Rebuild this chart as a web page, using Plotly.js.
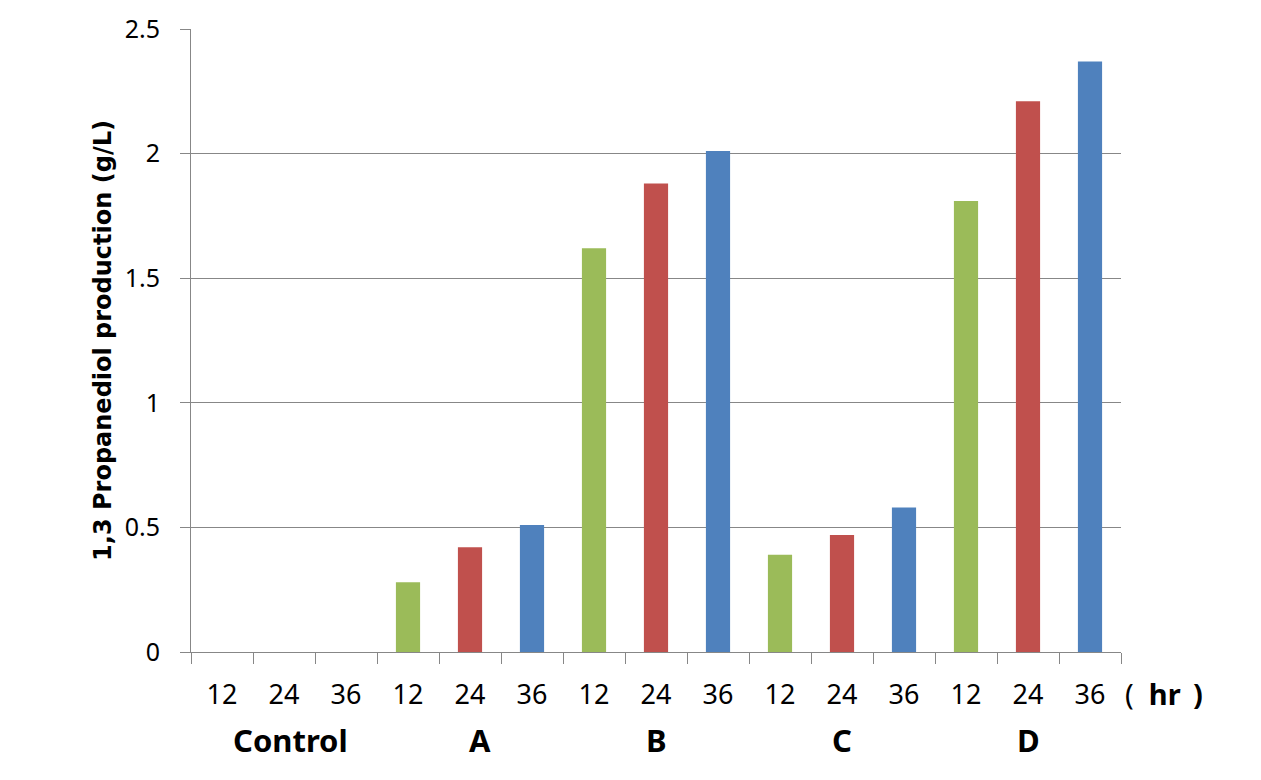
<!DOCTYPE html>
<html>
<head>
<meta charset="utf-8">
<script src="https://cdn.plot.ly/plotly-3.0.1.min.js"></script>
<style>html,body{margin:0;padding:0;background:#fff;}#chart{width:1261px;height:780px;}</style>
</head>
<body>
<div id="chart"></div>
<script>
const groups = ['Control', 'A', 'B', 'C', 'D'];
const hours = ['12', '24', '36'];
const values12 = [0, 0.28, 1.62, 0.39, 1.81];
const values24 = [0, 0.42, 1.88, 0.47, 2.21];
const values36 = [0, 0.51, 2.01, 0.58, 2.37];
const seriesValues = [values12, values24, values36];
const colors = ['#9BBB59', '#C0504D', '#4F81BD'];

const FONT = 'Noto Sans, Open Sans, sans-serif';
const TITLE_FONT = 'DejaVu Sans, Noto Sans, sans-serif';
const GRID = '#878787';

const traces = hours.map((h, hi) => ({
  type: 'bar',
  name: h + ' hr',
  x: groups.map((g, gi) => gi * hours.length + hi),
  y: seriesValues[hi],
  width: 0.39,
  marker: {color: colors[hi], line: {width: 0}},
  showlegend: false,
  hoverinfo: 'y'
}));

const nSlots = groups.length * hours.length;
const tickvals = [], ticktext = [];
groups.forEach((g, gi) => hours.forEach((h, hi) => {
  tickvals.push(gi * hours.length + hi);
  ticktext.push(h);
}));

// small horizontal nudges of the group labels, as placed in the original figure
const labelNudge = {Control: 6, A: 10};

const annotations = groups.map((g, gi) => ({
  x: gi * hours.length + (hours.length - 1) / 2,
  y: 0, xref: 'x', yref: 'y',
  xshift: labelNudge[g] || 0,
  yshift: -88, showarrow: false,
  text: '<b>' + g + '</b>',
  font: {family: FONT, size: 31, color: '#000'}
}));
annotations.push({
  x: nSlots - 0.5, y: 0, xref: 'x', yref: 'y',
  xanchor: 'left', xshift: 2, yshift: -41, showarrow: false,
  text: '(  <b>hr\u2009 )</b>',
  font: {family: FONT, size: 29, color: '#000'}
});

const layout = {
  width: 1261, height: 780,
  margin: {l: 191, r: 140, t: 29, b: 128},
  paper_bgcolor: '#fff', plot_bgcolor: '#fff',
  barmode: 'overlay',
  font: {family: FONT, color: '#000'},
  xaxis: {
    range: [-0.5, nSlots - 0.5],
    tickmode: 'array', tickvals: tickvals, ticktext: ticktext,
    ticks: '', showgrid: false, zeroline: false,
    showline: true, linecolor: GRID, linewidth: 1,
    tickfont: {family: FONT, size: 27, color: '#000'},
    ticklabelstandoff: 19,
    minor: {tickmode: 'linear', tick0: -0.5, dtick: 1, ticks: 'outside', ticklen: 11, tickcolor: GRID, tickwidth: 1, showgrid: false},
    fixedrange: true
  },
  yaxis: {
    range: [0, 2.5],
    tickmode: 'array', tickvals: [0, 0.5, 1, 1.5, 2, 2.5], ticktext: ['0', '0.5', '1', '1.5', '2', '2.5'],
    ticks: 'outside', ticklen: 10, tickcolor: GRID, tickwidth: 1,
    showgrid: true, gridcolor: GRID, gridwidth: 1,
    zeroline: false, showline: true, linecolor: GRID, linewidth: 1,
    tickfont: {family: FONT, size: 25, color: '#000'},
    ticklabelstandoff: 15,
    title: {text: '<b>1,3 Propanediol production (g/L)</b>', font: {family: TITLE_FONT, size: 24, color: '#000'}, standoff: 6},
    fixedrange: true
  },
  annotations: annotations
};

Plotly.newPlot('chart', traces, layout, {displayModeBar: false, staticPlot: true});
</script>
</body>
</html>
